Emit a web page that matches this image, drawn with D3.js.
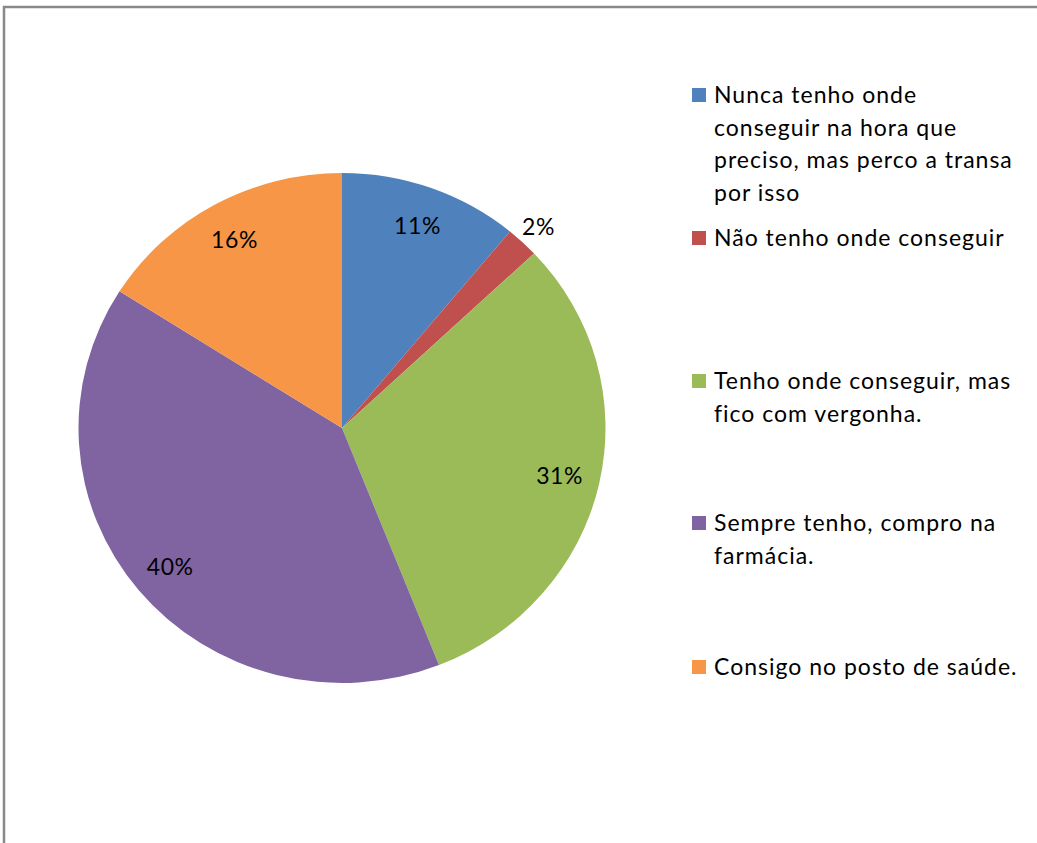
<!DOCTYPE html>
<html>
<head>
<meta charset="utf-8">
<script src="https://cdn.jsdelivr.net/npm/d3@7"></script>
<style>
  html, body { margin: 0; padding: 0; background: #fff; }
  svg { display: block; }
</style>
</head>
<body>
<svg id="chart"></svg>
<script>
// Dados do gráfico de pizza
const categories = [
    'Nunca tenho onde conseguir na hora que preciso, mas perco a transa por isso',
    'Não tenho onde conseguir',
    'Tenho onde conseguir, mas fico com vergonha.',
    'Sempre tenho, compro na farmácia.',
    'Consigo no posto de saúde.'
];
const values = [11, 2, 31, 40, 16];
const colors = ['#4F81BD', '#C0504D', '#9BBB59', '#8064A2', '#F79646'];

// Quebra de linhas da legenda, como na figura
const legendLines = [
    ['Nunca tenho onde', 'conseguir na hora que', 'preciso, mas perco a transa', 'por isso'],
    ['Não tenho onde conseguir'],
    ['Tenho onde conseguir, mas', 'fico com vergonha.'],
    ['Sempre tenho, compro na', 'farmácia.'],
    ['Consigo no posto de saúde.']
];
const legendY = [95, 238, 381, 523, 667];

const width = 1037;
const height = 843;
const fontFamily = 'Lato, "Open Sans", sans-serif';

const svg = d3.select('#chart')
    .attr('width', width)
    .attr('height', height);

// Moldura cinza (só topo e lado esquerdo aparecem)
svg.append('path')
    .attr('d', `M4,${height} L4,7 L${width},7`)
    .attr('fill', 'none')
    .attr('stroke', '#898989')
    .attr('stroke-width', 2.5);

// Pizza
const cx = 342;
const cy = 428;
const r = 263.5;
const yScale = 255 / 263.5; // a figura está levemente achatada

const pie = d3.pie().sort(null).value((d) => d);
const arcs = pie(values);
const arc = d3.arc().innerRadius(0).outerRadius(r);

const pieGroup = svg.append('g')
    .attr('transform', `translate(${cx},${cy}) scale(1,${yScale})`);

pieGroup.selectAll('path')
    .data(arcs)
    .enter()
    .append('path')
    .attr('d', arc)
    .attr('fill', (d, i) => colors[i]);

// Rótulos de porcentagem
const total = d3.sum(values);
function labelPos(d) {
    const mid = (d.startAngle + d.endAngle) / 2;
    const share = d.value / total;
    const rr = share < 0.05 ? 287 : 223;
    return [cx + rr * Math.sin(mid), cy - rr * Math.cos(mid) * yScale];
}

svg.append('g').selectAll('text')
    .data(arcs)
    .enter()
    .append('text')
    .attr('x', (d) => labelPos(d)[0])
    .attr('y', (d) => labelPos(d)[1])
    .attr('text-anchor', 'middle')
    .attr('dominant-baseline', 'central')
    .style('font-family', fontFamily)
    .style('font-size', '23px')
    .style('letter-spacing', '0.6px')
    .style('fill', '#000')
    .text((d) => d3.format('.0%')(d.value / total));

// Legenda
const legend = svg.append('g').selectAll('g')
    .data(categories)
    .enter()
    .append('g')
    .attr('transform', (d, i) => `translate(692,${legendY[i]})`);

legend.append('rect')
    .attr('x', 0)
    .attr('y', -7)
    .attr('width', 14)
    .attr('height', 14)
    .attr('fill', (d, i) => colors[i]);

legend.append('text')
    .style('font-family', fontFamily)
    .style('font-size', '23px')
    .style('letter-spacing', '1px')
    .style('fill', '#000')
    .each(function(d, i) {
        const t = d3.select(this);
        legendLines[i].forEach((line, j) => {
            t.append('tspan')
                .attr('x', 22)
                .attr('y', j * 32.7)
                .attr('dy', '0.35em')
                .text(line);
        });
    });
</script>
</body>
</html>
